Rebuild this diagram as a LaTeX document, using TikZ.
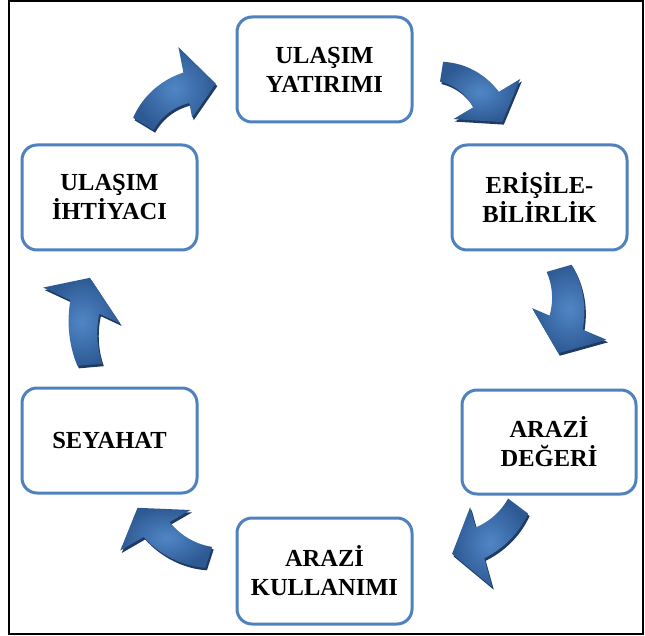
\documentclass[tikz,border=0pt]{standalone}
\usepackage{fontspec}
\setmainfont{Liberation Serif}
\definecolor{boxblue}{RGB}{79,129,189}
\definecolor{arrlight}{RGB}{80,134,198}
\definecolor{arrdark}{RGB}{46,90,148}
\definecolor{arrshade}{RGB}{32,58,98}
\tikzset{
  cyclebox/.style={draw=boxblue, line width=3pt, rounded corners=15pt, fill=white,
    minimum width=175pt, minimum height=105pt, align=center,
    font=\bfseries\fontsize{24.5}{29}\selectfont, text=black, inner sep=2pt},
  arrshadow/.style={fill=arrshade},
  arrfill/.style={shade, shading=radial, inner color=arrlight, outer color=arrdark},
}
% #1 inner start r, #2 inner end r, #3 outer start r, #4 outer end r,
% #5 tail angle, #6 head-base angle, #7 head inner r, #8 head outer r, #9 apex (angle:r)
\newcommand{\arrpath}[9]{plot[domain=#5:#6, samples=30] (\x:{#3+(#4-#3)*(\x-#5)/(#6-#5)}) -- (#6:#8) -- (#9) -- (#6:#7) -- plot[domain=#6:#5, samples=30] (\x:{#1+(#2-#1)*(\x-#5)/(#6-#5)}) -- cycle}
\newcommand{\blockarr}[2]{%
  \begin{scope}[shift={(#1)}]
    \path[arrshadow, shift={(1.5,2.5)}] \arrpath#2;
    \path[arrfill] \arrpath#2;
  \end{scope}}
\begin{document}
\begin{tikzpicture}[x=1pt, y=-1pt]
\useasboundingbox (0,0) rectangle (645,636);
\draw[line width=1.5pt] (9,1.2) rectangle (643,634);
% boxes
\node[cyclebox] (yat) at (324.5,69.5) {ULAŞIM\\YATIRIMI};
\node[cyclebox] (eri) at (539.5,197.5) {ERİŞİLE-\\BİLİRLİK};
\node[cyclebox, minimum width=174pt, minimum height=104pt] (deg) at (549,442) {ARAZİ\\DEĞERİ};
\node[cyclebox, minimum height=106pt] (kul) at (324.5,571) {ARAZİ\\KULLANIMI};
\node[cyclebox] (sey) at (109.5,440.5) {SEYAHAT};
\node[cyclebox] (iht) at (109.5,197.5) {ULAŞIM\\İHTİYACI};
% curved block arrows
\blockarr{200,158}{{54}{56}{78}{87}{211}{259}{41}{113}{282:76}}
\blockarr{432,132}{{51}{48}{71}{78}{279}{329}{25}{103}{352:71}}
\blockarr{487,289}{{62}{68}{88}{104}{-16}{23}{49}{130}{42:96}}
\blockarr{457,460}{{64}{70}{89}{102}{37}{74.5}{49}{132}{93:94}}
\blockarr{232,486}{{64}{72}{86}{102}{108}{150}{48}{129}{167:97}}
\blockarr{190,356}{{88}{100}{113}{132}{175}{205}{77}{162}{218:127}}
\end{tikzpicture}
\end{document}
